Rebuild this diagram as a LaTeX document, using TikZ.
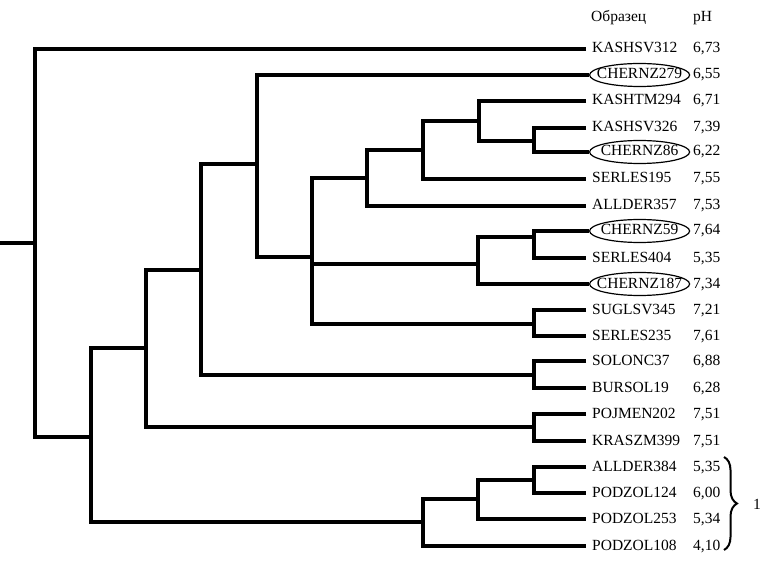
\documentclass[tikz,border=0pt]{standalone}
\usepackage{fontspec}
\setmainfont{Liberation Serif}
\usetikzlibrary{shapes.geometric,decorations.pathreplacing}

\newcommand{\ringed}[1]{\makebox[0pt]{#1}}

\begin{document}
\begin{tikzpicture}[x=1pt,y=-1pt,
  every node/.style={font=\fontsize{15.5}{18}\selectfont,text height=11pt,text depth=3pt},
  leaf/.style={anchor=west,inner xsep=6pt,inner ysep=0pt},
  ring/.style={ellipse,draw,line width=1.2pt,anchor=west,minimum width=100pt,minimum height=23pt,inner sep=0pt},
  ph/.style={anchor=west,inner sep=0pt},
  branch/.style={line width=3.1pt}]
\useasboundingbox (0,0) rectangle (768,561);

\node[ph] (hs) at (591,18) {Образец};
\node[ph] (hp) at (693,18) {pH};

\node[leaf] (l1) at (586,49) {KASHSV312};        \node[ph] (p1) at (693,49) {6,73};
\node[ring] (l2) at (589,75) {\ringed{CHERNZ279}}; \node[ph] (p2) at (693,75) {6,55};
\node[leaf] (l3) at (586,101) {KASHTM294};       \node[ph] (p3) at (693,101) {6,71};
\node[leaf] (l4) at (586,128) {KASHSV326};       \node[ph] (p4) at (693,128) {7,39};
\node[ring] (l5) at (589,152) {\ringed{CHERNZ86}}; \node[ph] (p5) at (693,152) {6,22};
\node[leaf] (l6) at (586,179) {SERLES195};       \node[ph] (p6) at (693,179) {7,55};
\node[leaf] (l7) at (586,206) {ALLDER357};       \node[ph] (p7) at (693,206) {7,53};
\node[ring] (l8) at (589,231) {\ringed{CHERNZ59}}; \node[ph] (p8) at (693,231) {7,64};
\node[leaf] (l9) at (586,258) {SERLES404};       \node[ph] (p9) at (693,258) {5,35};
\node[ring] (l10) at (589,284) {\ringed{CHERNZ187}}; \node[ph] (p10) at (693,284) {7,34};
\node[leaf] (l11) at (586,310) {SUGLSV345};      \node[ph] (p11) at (693,310) {7,21};
\node[leaf] (l12) at (586,336) {SERLES235};      \node[ph] (p12) at (693,336) {7,61};
\node[leaf] (l13) at (586,361) {SOLONC37};       \node[ph] (p13) at (693,361) {6,88};
\node[leaf] (l14) at (586,388) {BURSOL19};       \node[ph] (p14) at (693,388) {6,28};
\node[leaf] (l15) at (586,414) {POJMEN202};      \node[ph] (p15) at (693,414) {7,51};
\node[leaf] (l16) at (586,441) {KRASZM399};      \node[ph] (p16) at (693,441) {7,51};
\node[leaf] (l17) at (586,467) {ALLDER384};      \node[ph] (p17) at (693,467) {5,35};
\node[leaf] (l18) at (586,493) {PODZOL124};      \node[ph] (p18) at (693,493) {6,00};
\node[leaf] (l19) at (586,519) {PODZOL253};      \node[ph] (p19) at (693,519) {5,34};
\node[leaf] (l20) at (586,546) {PODZOL108};      \node[ph] (p20) at (693,546) {4,10};

\coordinate (stem) at (0,243);
\coordinate (root) at (35,243);
\coordinate (e4) at (91,437);
\coordinate (e3) at (146,348);
\coordinate (e2) at (201,270);
\coordinate (e1) at (257,164);
\coordinate (d1) at (312,257);
\coordinate (a4) at (367,178);
\coordinate (a3) at (423,150);
\coordinate (a2) at (479,121);
\coordinate (a1) at (534,141);
\coordinate (b2) at (478,264);
\coordinate (b1) at (534,237);
\coordinate (c1) at (534,324);
\coordinate (f1) at (534,375);
\coordinate (g1) at (534,427);
\coordinate (h3) at (423,522);
\coordinate (h2) at (478,499);
\coordinate (h1) at (534,480);

\draw[branch] (stem) -- (root);
\draw[branch] (l1.west) -| (root) |- (e4);
\draw[branch] (e3) -| (e4) |- (h3);
\draw[branch] (e2) -| (e3) |- (g1);
\draw[branch] (e1) -| (e2) |- (f1);
\draw[branch] (l2.west) -| (e1) |- (d1);
\draw[branch] (a4) -| (d1) |- (c1);
\draw[branch] (d1) |- (b2);
\draw[branch] (a3) -| (a4) |- (l7.west);
\draw[branch] (a2) -| (a3) |- (l6.west);
\draw[branch] (l3.west) -| (a2) |- (a1);
\draw[branch] (l4.west) -| (a1) |- (l5.west);
\draw[branch] (b1) -| (b2) |- (l10.west);
\draw[branch] (l8.west) -| (b1) |- (l9.west);
\draw[branch] (l11.west) -| (c1) |- (l12.west);
\draw[branch] (l13.west) -| (f1) |- (l14.west);
\draw[branch] (l15.west) -| (g1) |- (l16.west);
\draw[branch] (h2) -| (h3) |- (l20.west);
\draw[branch] (h1) -| (h2) |- (l19.west);
\draw[branch] (l17.west) -| (h1) |- (l18.west);

\coordinate (bt) at (724,457);
\coordinate (bb) at (724,550);
\draw[line width=2pt,decorate,decoration={brace,amplitude=13pt}] (bt) -- (bb);
\node (grp) at (757,505) {1};
\end{tikzpicture}
\end{document}
